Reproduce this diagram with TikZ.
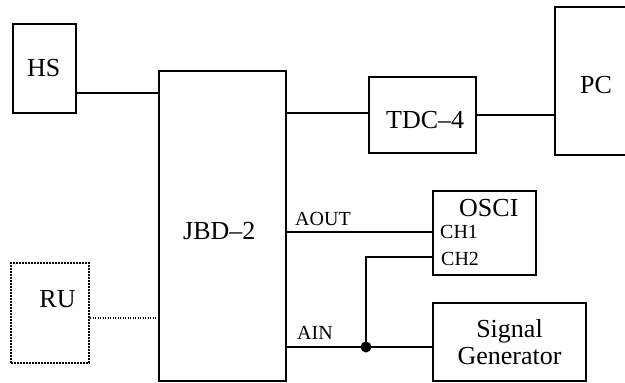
\documentclass[tikz,border=0pt]{standalone}
\usepackage{fontspec}
\setmainfont{Liberation Serif}
\begin{document}
\begin{tikzpicture}[x=1pt,y=-1pt,font=\fontsize{26}{27}\selectfont]
  \tikzstyle{blockbox}=[draw, line width=2pt, inner sep=0pt]
  \tikzstyle{wire}=[line width=2pt]
  \tikzstyle{title}=[inner sep=0pt, anchor=base]
  \tikzstyle{port}=[inner sep=0pt, anchor=base west, font=\fontsize{20}{21}\selectfont]
  \useasboundingbox (0,0) rectangle (625,383);

  % boxes
  \node[blockbox, minimum width=63pt, minimum height=89pt] (hs) at (44.5,68.5) {};
  \node[blockbox, minimum width=127pt, minimum height=310pt] (jbd) at (222.5,226) {};
  \node[blockbox, minimum width=107pt, minimum height=76pt] (tdc) at (422.5,115) {};
  \node[blockbox, minimum width=100pt, minimum height=148pt] (pc) at (605,81) {};
  \node[blockbox, minimum width=103pt, minimum height=84pt] (osci) at (484.5,233) {};
  \node[blockbox, minimum width=153pt, minimum height=78pt] (sg) at (509.5,342) {};
  \node[blockbox, dash pattern=on 1.6pt off 1.4pt, minimum width=78pt, minimum height=100pt] (ru) at (50,313) {};

  % labels
  \node[title] (hstext) at (43.7,76) {HS};
  \node[title] (jbdtext) at (219.3,239.3) {JBD--2};
  \node[title] (tdctext) at (425.2,128.3) {TDC--4};
  \node[title] (pctext) at (596,93.3) {PC};
  \node[title] (rutext) at (57.5,307.3) {RU};
  \node[title] (oscitext) at (488.8,216.7) {OSCI};
  \node[inner sep=0pt, align=center] (sgtext) at (sg.center) {Signal\\Generator};
  \node[port] (ch1) at (440,238.3) {CH1};
  \node[port] (ch2) at (441,265) {CH2};
  \node[port] (aout) at (295,225) {AOUT};
  \node[port] (ain) at (297,339.3) {AIN};

  % wiring
  \coordinate (tap) at (366,347);
  \draw[wire] (hs.east |- 0,93) -- (jbd.west |- 0,93);
  \draw[wire] (jbd.east |- 0,113) -- (tdc.west |- 0,113);
  \draw[wire] (tdc.east |- 0,115) -- (pc.west |- 0,115);
  \draw[wire] (jbd.east |- 0,232) -- (osci.west |- 0,232);
  \draw[wire] (tap) |- (osci.west |- 0,257);
  \draw[wire] (jbd.east |- tap) -- (sg.west |- tap);
  \draw[line width=1.2pt, dash pattern=on 1.2pt off 1.3pt] (ru.east |- 0,318) -- (jbd.west |- 0,318);
  \fill (tap) circle (5.5pt);
\end{tikzpicture}
\end{document}
